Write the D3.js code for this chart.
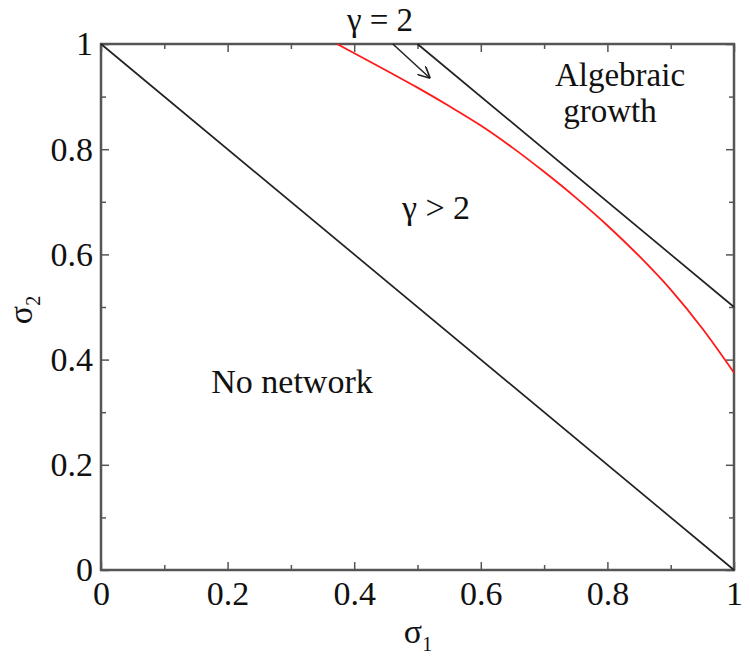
<!DOCTYPE html>
<html>
<head>
<meta charset="utf-8">
<script src="https://cdn.jsdelivr.net/npm/d3@7"></script>
<style>
  body { margin: 0; background: #fff; }
  svg text { font-family: "Liberation Serif", "DejaVu Serif", serif; fill: #111; }
</style>
</head>
<body>
<div id="chart"></div>
<script>
// Boundary curve gamma = 2 (red)
var redX = [0.373, 0.45, 0.5, 0.55, 0.6, 0.65, 0.7, 0.75, 0.8, 0.85, 0.9, 0.95, 1.0];
var redY = [1.0, 0.950, 0.917, 0.882, 0.845, 0.803, 0.757, 0.708, 0.655, 0.597, 0.533, 0.459, 0.375];

// straight black boundaries
var noNetX = [0, 1];
var noNetY = [1, 0];
var algX = [0.5, 1];
var algY = [1, 0.5];

// arrow pointing at red curve
var arrowX = [0.461, 0.52];
var arrowY = [1.0, 0.935];

var tickValues = [0, 0.2, 0.4, 0.6, 0.8, 1];
var minorTicks = [0.1, 0.3, 0.5, 0.7, 0.9];

const margin = { left: 101, right: 16, top: 44, bottom: 102 };
const width = 750, height = 672;
const chartWidth = width - margin.left - margin.right;
const chartHeight = height - margin.top - margin.bottom;

var scaleX = d3.scaleLinear().domain([0, 1]).range([0, chartWidth]);
var scaleY = d3.scaleLinear().domain([0, 1]).range([chartHeight, 0]);

var svg = d3.select('#chart')
  .append('svg')
  .attr('width', width)
  .attr('height', height);

var group = svg.append('g')
  .attr('transform', 'translate(' + margin.left + ',' + margin.top + ')');

var fmt = function (d) { return d === 0 || d === 1 ? d3.format('d')(d) : d3.format('.1f')(d); };

// ticks (inward, on all four sides)
function tickify(sel) {
  sel.attr('font-family', '"Liberation Serif", serif').attr('font-size', 34);
  sel.select('.domain').remove();
  sel.selectAll('line').attr('stroke', '#555').attr('stroke-width', 1.5);
  sel.selectAll('text').attr('fill', '#111');
}

var xMajor = group.append('g')
  .attr('transform', 'translate(0,' + chartHeight + ')')
  .call(d3.axisBottom(scaleX).tickValues(tickValues).tickSize(-8).tickPadding(11).tickFormat(fmt));
tickify(xMajor);

var xMinor = group.append('g')
  .attr('transform', 'translate(0,' + chartHeight + ')')
  .call(d3.axisBottom(scaleX).tickValues(minorTicks).tickSize(-5).tickFormat(''));
tickify(xMinor);

var xTop = group.append('g')
  .call(d3.axisTop(scaleX).tickValues(tickValues).tickSize(-8).tickFormat(''));
tickify(xTop);
var xTopMinor = group.append('g')
  .call(d3.axisTop(scaleX).tickValues(minorTicks).tickSize(-5).tickFormat(''));
tickify(xTopMinor);

var yMajor = group.append('g')
  .call(d3.axisLeft(scaleY).tickValues(tickValues).tickSize(-8).tickPadding(8).tickFormat(fmt));
tickify(yMajor);

var yMinor = group.append('g')
  .call(d3.axisLeft(scaleY).tickValues(minorTicks).tickSize(-5).tickFormat(''));
tickify(yMinor);

var yRight = group.append('g')
  .attr('transform', 'translate(' + chartWidth + ',0)')
  .call(d3.axisRight(scaleY).tickValues(tickValues).tickSize(-8).tickFormat(''));
tickify(yRight);
var yRightMinor = group.append('g')
  .attr('transform', 'translate(' + chartWidth + ',0)')
  .call(d3.axisRight(scaleY).tickValues(minorTicks).tickSize(-5).tickFormat(''));
tickify(yRightMinor);

// frame
group.append('rect')
  .attr('x', 0).attr('y', 0)
  .attr('width', chartWidth).attr('height', chartHeight)
  .attr('fill', 'none')
  .attr('stroke', '#555')
  .attr('stroke-width', 2.5);

var lineFunc = d3.line()
  .x(function (d) { return scaleX(d[0]); })
  .y(function (d) { return scaleY(d[1]); });

var curveFunc = d3.line()
  .x(function (d) { return scaleX(d[0]); })
  .y(function (d) { return scaleY(d[1]); })
  .curve(d3.curveMonotoneX);

function zip(xs, ys) { return xs.map(function (x, i) { return [x, ys[i]]; }); }

group.append('path')
  .attr('d', lineFunc(zip(noNetX, noNetY)))
  .attr('stroke', '#222').attr('stroke-width', 1.7).attr('fill', 'none');

group.append('path')
  .attr('d', lineFunc(zip(algX, algY)))
  .attr('stroke', '#222').attr('stroke-width', 1.7).attr('fill', 'none');

group.append('path')
  .attr('d', curveFunc(zip(redX, redY)))
  .attr('stroke', '#ff1a1a').attr('stroke-width', 1.8).attr('fill', 'none');

// arrow
svg.append('defs').append('marker')
  .attr('id', 'arrowhead')
  .attr('viewBox', '0 0 10 10')
  .attr('refX', 10).attr('refY', 5)
  .attr('markerWidth', 12).attr('markerHeight', 12)
  .attr('markerUnits', 'userSpaceOnUse')
  .attr('orient', 'auto')
  .append('path')
  .attr('d', 'M0,0 L10,5 L0,10')
  .attr('fill', 'none')
  .attr('stroke', '#222')
  .attr('stroke-width', 1.4);

group.append('path')
  .attr('d', lineFunc(zip(arrowX, arrowY)))
  .attr('stroke', '#222').attr('stroke-width', 1.5).attr('fill', 'none')
  .attr('marker-end', 'url(#arrowhead)');

// region labels
svg.append('text').attr('x', 380).attr('y', 31).attr('text-anchor', 'middle')
  .attr('font-size', '33px').text('γ = 2');
svg.append('text').attr('x', 620).attr('y', 86).attr('text-anchor', 'middle')
  .attr('font-size', '33px').text('Algebraic');
svg.append('text').attr('x', 610).attr('y', 122).attr('text-anchor', 'middle')
  .attr('font-size', '33px').text('growth');
svg.append('text').attr('x', 436).attr('y', 219).attr('text-anchor', 'middle')
  .attr('font-size', '34px').text('γ > 2');
svg.append('text').attr('x', 292).attr('y', 393).attr('text-anchor', 'middle')
  .attr('font-size', '34px').text('No network');

// axis titles
var xt = svg.append('text').attr('x', 418).attr('y', 643).attr('text-anchor', 'middle')
  .attr('font-size', '34px');
xt.append('tspan').text('σ');
xt.append('tspan').attr('font-size', '20px').attr('dy', 8).text('1');

var yt = svg.append('text')
  .attr('transform', 'translate(32,' + 310 + ') rotate(-90)')
  .attr('text-anchor', 'middle')
  .attr('font-size', '34px');
yt.append('tspan').text('σ');
yt.append('tspan').attr('font-size', '20px').attr('dy', 8).text('2');
</script>
</body>
</html>
